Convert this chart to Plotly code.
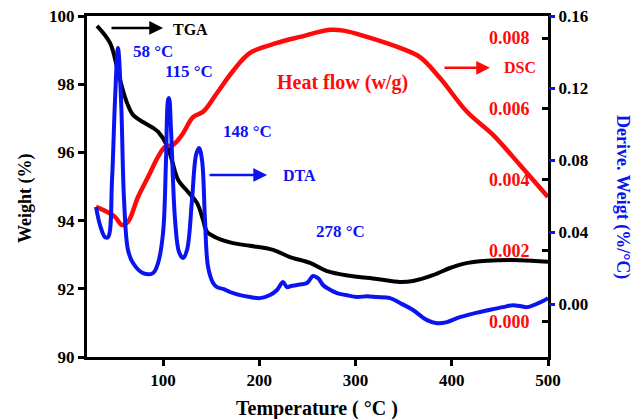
import plotly.graph_objects as go

# ---- data ----
tga_temp = [31.4, 44.9, 52.2, 57.4, 62.6, 68.8, 79.2, 89.6, 95.0, 104.2, 109.4, 115.6, 126.0, 135.3,
            141.6, 145.7, 156.1, 172.7, 190.4, 214.3, 231.9, 252.7, 270.4, 294.3, 322.3, 346.2,
            359.7, 380.5, 398.2, 411.7, 436.6, 470.9, 500.0]
tga_weight = [99.71, 99.21, 98.50, 97.91, 97.45, 97.10, 96.89, 96.72, 96.60, 96.20, 95.75, 95.20, 94.84, 94.52,
              94.02, 93.67, 93.49, 93.34, 93.26, 93.14, 92.93, 92.76, 92.52, 92.38, 92.29, 92.20,
              92.23, 92.40, 92.61, 92.73, 92.82, 92.84, 92.79]

dsc_temp = [30.4, 41.8, 50.1, 57.4, 63.6, 74.0, 84.4, 94.8, 102.1, 110.4, 119.7, 131.2, 141.6, 156.1,
            172.7, 190.4, 218.4, 242.3, 273.5, 289.1, 311.9, 346.2, 367.0, 387.8, 415.8, 442.9,
            470.9, 500.0]
dsc_heat = [0.00324, 0.00310, 0.00296, 0.00273, 0.00282, 0.00352, 0.00408, 0.00465, 0.00493, 0.00499,
            0.00527, 0.00577, 0.00592, 0.00645, 0.00707, 0.00758, 0.00786, 0.00803, 0.00823, 0.00820,
            0.00803, 0.00772, 0.00746, 0.00687, 0.00592, 0.00527, 0.00442, 0.00352]

dta_temp = [30.4, 34.5, 39.7, 42.9, 47.0, 50.1, 53.2, 56.4, 59.5, 63.6, 68.8, 79.2, 89.6, 94.8, 100.0,
            103.1, 105.2, 106.2, 108.3, 112.5, 116.6, 120.8, 124.9, 130.1, 134.3, 137.4, 140.5,
            143.6, 146.8, 152.0, 156.1, 163.0, 169.6, 180.0, 190.4, 200.8, 211.2, 218.4, 224.7,
            228.8, 233.0, 239.2, 249.6, 255.8, 261.0, 266.2, 270.4, 280.8, 290.0, 301.6, 312.0,
            322.3, 335.8, 346.2, 359.7, 374.3, 384.7, 395.0, 405.5, 417.0, 429.4, 441.0, 453.2,
            463.6, 470.9, 478.2, 490.0, 500.0]
dta_deriv = [0.0539, 0.0439, 0.0372, 0.0372, 0.0689, 0.1133, 0.1422, 0.1133, 0.0578, 0.0300, 0.0228,
             0.0172, 0.0172, 0.0228, 0.0394, 0.0800, 0.1133, 0.1144, 0.0967, 0.0467, 0.0289, 0.0256,
             0.0300, 0.0578, 0.0828, 0.0867, 0.0800, 0.0467, 0.0206, 0.0117, 0.0094, 0.0083, 0.0067,
             0.0050, 0.0039, 0.0033, 0.0050, 0.0078, 0.0122, 0.0094, 0.0100, 0.0106, 0.0117, 0.0156,
             0.0144, 0.0106, 0.0089, 0.0061, 0.0050, 0.0039, 0.0044, 0.0039, 0.0033, 0.0006, -0.0033,
             -0.0089, -0.0106, -0.0100, -0.0078, -0.0060, -0.0044, -0.0030, -0.0017, -0.0006, -0.0011,
             -0.0017, 0.0005, 0.0033]

x_ticks = [100, 200, 300, 400, 500]
w_ticks = [90, 92, 94, 96, 98, 100]
dsc_ticks = [0.000, 0.002, 0.004, 0.006, 0.008]
dta_ticks = [0.00, 0.04, 0.08, 0.12, 0.16]

FONT = "Liberation Serif"
BLUE = "#0a14f0"
RED = "#ff0a0a"

fig = go.Figure()
fig.add_trace(go.Scatter(x=dta_temp, y=dta_deriv, mode="lines", yaxis="y3",
                         line=dict(color=BLUE, width=4), line_shape="spline"))
fig.add_trace(go.Scatter(x=tga_temp, y=tga_weight, mode="lines", yaxis="y",
                         line=dict(color="black", width=4), line_shape="spline"))
fig.add_trace(go.Scatter(x=dsc_temp, y=dsc_heat, mode="lines", yaxis="y2",
                         line=dict(color=RED, width=4.5), line_shape="spline"))

tickfont = dict(family=FONT, size=17, color="black", weight="bold")

fig.update_layout(
    width=641, height=419,
    margin=dict(l=87, r=93, t=16, b=62),
    paper_bgcolor="white", plot_bgcolor="white",
    showlegend=False,
    font=dict(family=FONT, weight="bold"),
    xaxis=dict(range=[21, 500], tickvals=x_ticks, ticks="outside", ticklen=6, tickwidth=3,
               tickcolor="black", showline=True, linewidth=3, linecolor="black", mirror=True,
               showgrid=False, zeroline=False, tickfont=tickfont, automargin=False),
    yaxis=dict(range=[90, 100], tickvals=w_ticks, ticks="outside", ticklen=6, tickwidth=3,
               tickcolor="black", showline=True, linewidth=3, linecolor="black", mirror=True,
               showgrid=False, zeroline=False, tickfont=tickfont, automargin=False),
    # DSC axis: sits on the right frame line, ticks and labels point into the plot
    yaxis2=dict(overlaying="y", side="left", anchor="free", position=1.0,
                range=[-0.00099, 0.00862], tickvals=dsc_ticks,
                tickformat=".3f", ticks="outside", ticklen=6, tickwidth=3, tickcolor="black",
                ticklabelstandoff=9, showline=False, showgrid=False,
                zeroline=False, automargin=False,
                tickfont=dict(family=FONT, size=18, color=RED, weight="bold")),
    yaxis3=dict(overlaying="y", side="right", range=[-0.0294, 0.16], tickvals=dta_ticks,
                tickformat=".2f", ticks="outside", ticklen=6, tickwidth=3, tickcolor=BLUE,
                showline=False, showgrid=False, zeroline=False, tickfont=tickfont, automargin=False),
)

def txt(x, y, s, color, size=17):
    fig.add_annotation(x=x, y=y, xref="x", yref="y", text=s, showarrow=False,
                       font=dict(family=FONT, size=size, color=color, weight="bold"))

def arrow(x, y, ax, color):
    fig.add_annotation(x=x, y=y, xref="x", yref="y", ax=ax, ay=0, text="", showarrow=True,
                       arrowhead=2, arrowsize=1.1, arrowwidth=2.5, arrowcolor=color)

arrow(100, 99.65, -53, "black")
txt(128.1, 99.59, "TGA", "black", 16)
txt(89.6, 98.97, "58 °C", BLUE)
txt(127.0, 98.36, "115 °C", BLUE)
txt(187.3, 96.60, "148 °C", BLUE)
arrow(208.1, 95.34, -59, BLUE)
txt(241.3, 95.31, "DTA", BLUE, 16)
txt(283.9, 93.67, "278 °C", BLUE)
txt(286.0, 98.04, "Heat flow (w/g)", RED, 20)
arrow(439.7, 98.48, -47, RED)
txt(470.9, 98.48, "DSC", RED, 16)

def side_title(xpx, ypx, s, angle, color, size):
    fig.add_annotation(x=(xpx - 87) / 461, y=(357 - ypx) / 341, xref="paper", yref="paper",
                       xanchor="center", yanchor="middle", text=s, textangle=angle,
                       showarrow=False, font=dict(family=FONT, size=size, color=color, weight="bold"))

side_title(25, 198, "Weight (%)", -90, "black", 18)
side_title(317, 408, "Temperature ( °C )", 0, "black", 20)
side_title(623, 197, "Derive. Weigt (%/°C)", 90, BLUE, 18)

fig.write_html("out.html", config={"displayModeBar": False},
               post_script="document.body.style.margin='0';")
